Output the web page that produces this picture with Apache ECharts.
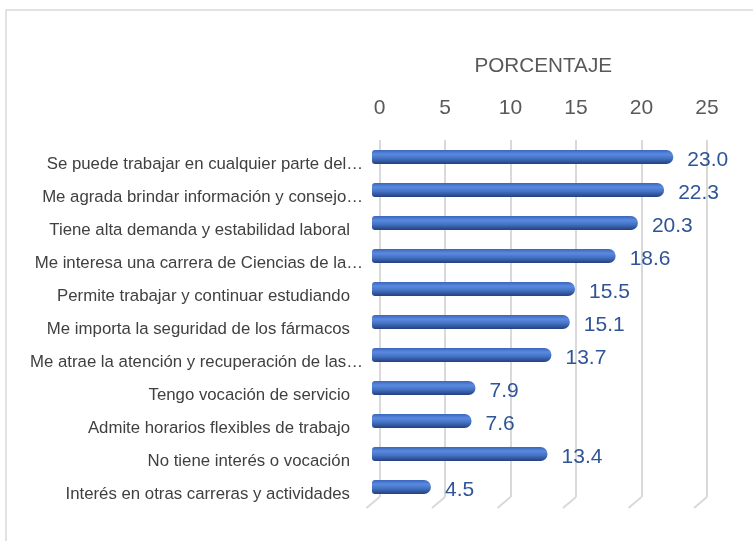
<!DOCTYPE html>
<html>
<head>
<meta charset="utf-8">
<script src="https://cdn.jsdelivr.net/npm/echarts@6/dist/echarts.min.js"></script>
<style>
html,body{margin:0;padding:0;background:#fff;}
#chart{width:753px;height:541px;}
</style>
</head>
<body>
<div id="chart"></div>
<script>
const categories = [
  "Se puede trabajar en cualquier parte del…",
  "Me agrada brindar información y consejo…",
  "Tiene alta demanda y estabilidad laboral",
  "Me interesa una carrera de Ciencias de la…",
  "Permite trabajar y continuar estudiando",
  "Me importa la seguridad de los fármacos",
  "Me atrae la atención y recuperación de las…",
  "Tengo vocación de servicio",
  "Admite horarios flexibles de trabajo",
  "No tiene interés o vocación",
  "Interés en otras carreras y actividades"
];
const values = [23.0, 22.3, 20.3, 18.6, 15.5, 15.1, 13.7, 7.9, 7.6, 13.4, 4.5];
const tickValues = [0, 5, 10, 15, 20, 25];
const axisTitle = "PORCENTAJE";

const FONT = "Liberation Sans";
const chart = echarts.init(document.getElementById('chart'), null, {renderer: 'canvas'});

chart.setOption({
  backgroundColor: '#ffffff',
  animation: false,
  graphic: [{
    type: 'rect', silent: true, z: -10,
    shape: {x: 6, y: 10, width: 760, height: 540},
    style: {fill: 'none', stroke: '#D9D9D9', lineWidth: 1.5}
  }],
  grid: [
    {left: 372, right: 53.5, top: 140.5, bottom: 37.5, containLabel: false},
    {left: 379.5, right: 46, top: 140, bottom: 44, containLabel: false}
  ],
  xAxis: [
    {gridIndex: 0, type: 'value', min: 0, max: 25, interval: 5, show: false},
    {
      gridIndex: 1, type: 'value', min: 0, max: 25, interval: 5, position: 'top',
      name: axisTitle, nameLocation: 'middle', nameGap: 63,
      nameTextStyle: {fontFamily: FONT, fontSize: 20.7, color: '#595959'},
      axisLine: {show: false}, axisTick: {show: false},
      axisLabel: {fontFamily: FONT, fontSize: 21, color: '#595959', margin: 21},
      splitLine: {show: true, lineStyle: {color: '#D9D9D9', width: 2}}
    }
  ],
  yAxis: [
    {
      gridIndex: 0, type: 'category', data: categories, inverse: true,
      axisLine: {show: false}, axisTick: {show: false},
      axisLabel: {
        fontFamily: FONT, fontSize: 16.8, color: '#404040', margin: 9,
        formatter: function (v) {
          return v.endsWith('…') ? '{a|' + v + '}' : '{a|' + v + '}{p|}';
        },
        rich: {
          a: {fontFamily: FONT, fontSize: 16.8, color: '#404040', padding: [15, 0, 0, 0]},
          p: {width: 13, padding: [15, 0, 0, 0]}
        }
      },
      splitLine: {show: false}
    },
    {gridIndex: 1, type: 'value', min: 0, max: 1, show: false}
  ],
  series: [
    {
      type: 'custom', xAxisIndex: 1, yAxisIndex: 1, silent: true, clip: false, z: 1,
      data: tickValues.map(v => [v]),
      encode: {x: 0},
      renderItem: function (params, api) {
        const p = api.coord([api.value(0), 0]);
        return {
          type: 'line',
          shape: {x1: p[0], y1: p[1], x2: p[0] - 13, y2: p[1] + 11},
          style: {stroke: '#D9D9D9', lineWidth: 2}
        };
      }
    },
    {
      type: 'bar', xAxisIndex: 0, yAxisIndex: 0, z: 5,
      data: values, barWidth: 14,
      itemStyle: {
        borderRadius: [3, 7, 7, 3],
        color: new echarts.graphic.LinearGradient(0, 0, 0, 1, [
          {offset: 0, color: '#3A66BC'},
          {offset: 0.3, color: '#5A8AE0'},
          {offset: 0.6, color: '#4472C4'},
          {offset: 1, color: '#243F7E'}
        ])
      },
      label: {
        show: true, position: 'right', distance: 14, offset: [0, 3],
        fontFamily: FONT, fontSize: 21, color: '#2F5597',
        formatter: p => p.value.toFixed(1)
      }
    }
  ]
});
</script>
</body>
</html>
